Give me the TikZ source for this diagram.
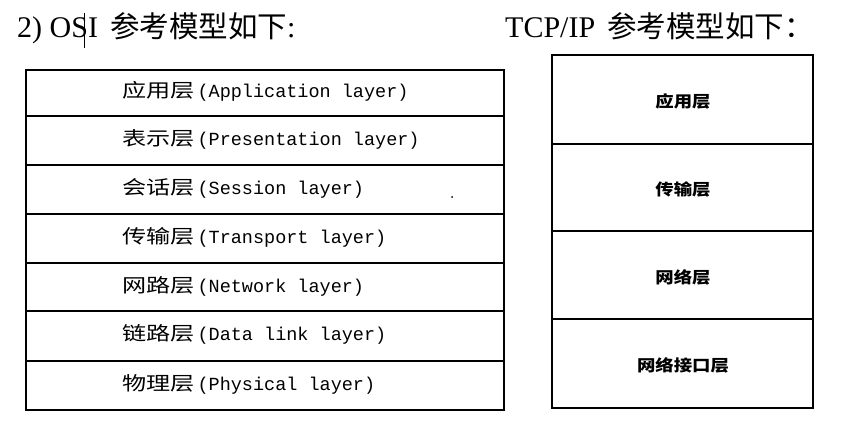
\documentclass[tikz,border=0pt]{standalone}
\usepackage{fontspec}
\setmainfont{Liberation Serif}
\setmonofont{Liberation Mono}
\newfontfamily\cjk{Noto Sans CJK SC}
\begin{document}
\begin{tikzpicture}[x=1pt,y=-1pt,
  osibox/.style={draw=black,line width=1.8pt},
  tcpbox/.style={draw=black,line width=1.2pt},
  osilabel/.style={anchor=west,inner sep=0pt,font=\ttfamily\fontsize{18.5}{20}\selectfont},
  tcplabel/.style={anchor=center,inner sep=0pt,font=\cjk\bfseries\fontsize{16}{18}\selectfont},
  titletext/.style={anchor=base west,inner sep=0pt,font=\fontsize{30}{32}\selectfont}]
\useasboundingbox (0,0) rectangle (842,425);
\newcommand{\zh}[1]{{\cjk\fontsize{19}{20}\selectfont\scalebox{1.27}[1]{#1}}\hspace{3pt}}
\newcommand{\zt}[1]{{\cjk\fontsize{29.5}{30}\selectfont #1}}
% titles
\node[titletext] (t1) at (17,38) {2) OSI\hspace{12pt}\zt{参考模型如下}:};
\draw[line width=0.8pt] (84,13) -- (84,48);
\node[titletext] (t2) at (505,38) {TCP/IP\hspace{12pt}\zt{参考模型如下：}};
% OSI table
\draw[osibox] (26,70) rectangle (504,410);
\foreach \y in {116,165,214,263,311,361} \draw[osibox] (26,\y) -- (504,\y);
\node[osilabel] (o1) at (122,91) {\zh{应用层}(Application layer)};
\node[osilabel] (o2) at (122,139) {\zh{表示层}(Presentation layer)};
\node[osilabel] (o3) at (122,188) {\zh{会话层}(Session layer)};
\node[osilabel] (o4) at (122,237) {\zh{传输层}(Transport layer)};
\node[osilabel] (o5) at (122,286) {\zh{网路层}(Network layer)};
\node[osilabel] (o6) at (122,334) {\zh{链路层}(Data link layer)};
\node[osilabel] (o7) at (122,384) {\zh{物理层}(Physical layer)};
\fill (452,197) circle (1);
% TCP/IP table
\draw[tcpbox] (552,55) rectangle (813,408);
\foreach \y in {144,231,319} \draw[tcpbox] (552,\y) -- (813,\y);
\node[tcplabel] (p1) at (683,101) {\scalebox{1.15}[1]{应用层}};
\node[tcplabel] (p2) at (683,189) {\scalebox{1.15}[1]{传输层}};
\node[tcplabel] (p3) at (683,277) {\scalebox{1.15}[1]{网络层}};
\node[tcplabel] (p4) at (683,365) {\scalebox{1.15}[1]{网络接口层}};
\end{tikzpicture}
\end{document}
